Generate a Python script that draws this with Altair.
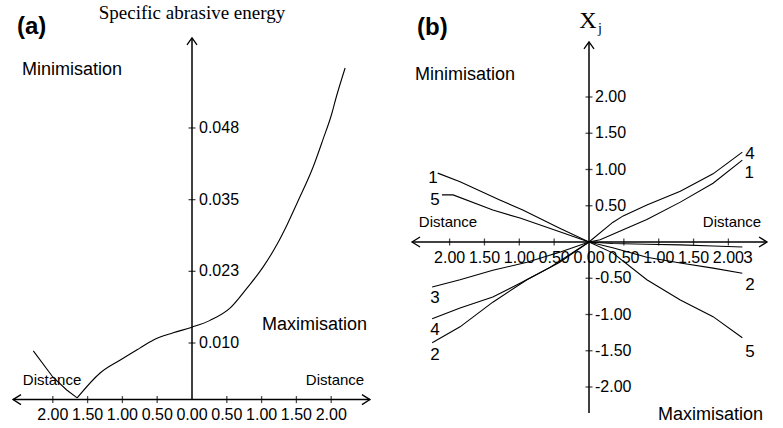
import altair as alt
import pandas as pd

# ---------------- data: panel (a) ----------------
a_dist = [-2.28, -2.00, -1.80, -1.65, -1.32, -1.03, -0.75, -0.56, -0.27, 0.00,
          0.26, 0.55, 0.79, 1.02, 1.22, 1.37, 1.52, 1.74, 1.88, 2.01, 2.06, 2.20]
a_energy = [0.0086, 0.0040, 0.0017, 0.0003, 0.0047, 0.0070, 0.0091, 0.0105, 0.0118, 0.0128,
            0.0140, 0.0162, 0.0197, 0.0234, 0.0274, 0.0310, 0.0350, 0.0411, 0.0459, 0.0506, 0.0529, 0.0586]
a_xticks = [-2.0, -1.5, -1.0, -0.5, 0.0, 0.5, 1.0, 1.5, 2.0]
a_yticks = [0.010, 0.0226667, 0.0353333, 0.048]

# ---------------- data: panel (b) ----------------
b_lines = {
    "1": ([-2.17, -1.85, -1.28, -0.95, -0.42, 0.0, 0.16, 0.49, 0.83, 1.31, 1.78, 2.20],
          [0.95, 0.83, 0.58, 0.44, 0.19, 0.0, 0.03, 0.17, 0.31, 0.55, 0.81, 1.13]),
    "2": ([-2.25, -1.85, -1.38, -0.89, -0.42, 0.0, 0.34, 0.83, 1.31, 1.78, 2.20],
          [-1.39, -1.17, -0.83, -0.52, -0.28, 0.0, -0.08, -0.21, -0.29, -0.36, -0.43]),
    "3": ([-2.25, -1.85, -1.38, -0.89, -0.42, 0.0, 0.34, 0.83, 1.31, 1.78, 2.20],
          [-0.62, -0.52, -0.39, -0.28, -0.14, 0.0, -0.02, -0.03, -0.04, -0.055, -0.07]),
    "4": ([-2.25, -1.85, -1.38, -0.99, -0.56, 0.0, 0.34, 0.49, 0.83, 1.31, 1.78, 2.20],
          [-1.06, -0.91, -0.76, -0.57, -0.35, 0.0, 0.27, 0.36, 0.51, 0.70, 0.94, 1.24]),
    "5": ([-2.11, -1.95, -1.38, -0.99, -0.42, 0.0, 0.34, 0.83, 1.31, 1.78, 2.20],
          [0.65, 0.65, 0.44, 0.33, 0.14, 0.0, -0.15, -0.52, -0.80, -1.03, -1.32]),
}
b_xticks = [-2.0, -1.5, -1.0, -0.5, 0.0, 0.5, 1.0, 1.5, 2.0]
b_yticks = [-2.0, -1.5, -1.0, -0.5, 0.5, 1.0, 1.5, 2.0]
b_label_text = ["1", "5", "3", "4", "2", "4", "1", "3", "2", "5"]
b_label_x = [-2.24, -2.21, -2.21, -2.21, -2.21, 2.31, 2.30, 2.28, 2.31, 2.31]
b_label_y = [0.88, 0.58, -0.77, -1.21, -1.56, 1.21, 0.95, -0.22, -0.59, -1.52]

# ---------------- layout ----------------
H = 428
WA, WB = 391, 392
SANS = "Liberation Sans"
SERIF = "Liberation Serif"

AX_DOM = [-192 / 69.6, (WA - 192) / 69.6]
AY_DOM = [(399.6 - H) / 5659.0, 399.6 / 5659.0]
BX_DOM = [-198 / 69.7, (WB - 198) / 69.7]
BY_DOM = [(242 - H) / 72.5, 242 / 72.5]

LEFT_ARROW = "M1.6,-1L0,0L1.6,1"
RIGHT_ARROW = "M-1.6,-1L0,0L-1.6,1"
UP_ARROW = "M-1,1.4L0,0L1,1.4"


def sc(dom):
    return alt.Scale(domain=dom, nice=False, zero=False)


def X(field, dom):
    return alt.X(field, type="quantitative", scale=sc(dom), axis=None)


def Y(field, dom):
    return alt.Y(field, type="quantitative", scale=sc(dom), axis=None)


def text_layer(df, xd, yd, size, font=SANS, weight="normal", align="left"):
    return alt.Chart(df).mark_text(
        fontSize=size, font=font, fontWeight=weight, align=align,
        baseline="middle", color="black"
    ).encode(x=X("x", xd), y=Y("y", yd), text="t:N")


def arrows(pts, xd, yd):
    layers = []
    for (x, y, shape) in pts:
        layers.append(
            alt.Chart(pd.DataFrame({"x": [x], "y": [y]})).mark_point(
                shape=shape, size=100, filled=False, stroke="black", strokeWidth=1.3, opacity=1
            ).encode(x=X("x", xd), y=Y("y", yd))
        )
    return layers


def axis_lines(xr, yr, xd, yd):
    df = pd.DataFrame({"x": [xr[0], 0.0], "x2": [xr[1], 0.0],
                       "y": [0.0, yr[0]], "y2": [0.0, yr[1]]})
    return alt.Chart(df).mark_rule(color="black", strokeWidth=1.5).encode(
        x=X("x", xd), x2="x2:Q", y=Y("y", yd), y2="y2:Q")


def tick_layers(xt, yt, xd, yd):
    dx = pd.DataFrame({"x": [v for v in xt if v != 0], "y": 0.0})
    dy = pd.DataFrame({"y": yt, "x": 0.0})
    tx = alt.Chart(dx).mark_tick(orient="vertical", size=7, thickness=1.3, color="black").encode(
        x=X("x", xd), y=Y("y", yd))
    ty = alt.Chart(dy).mark_tick(orient="horizontal", size=7, thickness=1.3, color="black").encode(
        x=X("x", xd), y=Y("y", yd))
    return [tx, ty]


def x_labels(ticks, xd, yd, dy):
    df = pd.DataFrame({"x": ticks, "y": 0.0})
    return alt.Chart(df).transform_calculate(
        t="format(abs(datum.x), '.2f')"
    ).mark_text(fontSize=16, font=SANS, align="center", baseline="middle", dy=dy, color="black").encode(
        x=X("x", xd), y=Y("y", yd), text="t:N")


def y_labels(ticks, xd, yd, dx, expr):
    df = pd.DataFrame({"x": 0.0, "y": ticks})
    return alt.Chart(df).transform_calculate(t=expr).mark_text(
        fontSize=16, font=SANS, align="left", baseline="middle", dx=dx, color="black").encode(
        x=X("x", xd), y=Y("y", yd), text="t:N")


# ---------------- panel (a) ----------------
dfa = pd.DataFrame({"x": a_dist, "y": a_energy})
dfa_left = dfa[dfa["x"] <= -1.65]
dfa_right = dfa[dfa["x"] >= -1.65]
curve_a1 = alt.Chart(dfa_left).mark_line(color="black", strokeWidth=1.1).encode(
    x=X("x", AX_DOM), y=Y("y", AY_DOM), order="x:Q")
curve_a2 = alt.Chart(dfa_right).mark_line(color="black", strokeWidth=1.1, interpolate="monotone").encode(
    x=X("x", AX_DOM), y=Y("y", AY_DOM), order="x:Q")

a_ann_sans = pd.DataFrame({
    "x": [-2.443, 1.006], "y": [0.0582, 0.0132], "t": ["Minimisation", "Maximisation"]})
a_ann_dist = pd.DataFrame({"x": [-2.011, 2.055], "y": [0.00346, 0.00346], "t": ["Distance", "Distance"]})
a_ann_tag = pd.DataFrame({"x": [-2.514], "y": [0.0658], "t": ["(a)"]})
a_ann_title = pd.DataFrame({"x": [0.0], "y": [0.0683], "t": ["Specific abrasive energy"]})

panel_a = alt.layer(
    curve_a1, curve_a2,
    axis_lines([-2.572, 2.557], [0.0, 0.0639], AX_DOM, AY_DOM),
    *tick_layers(a_xticks, a_yticks, AX_DOM, AY_DOM),
    x_labels(a_xticks, AX_DOM, AY_DOM, 15),
    y_labels(a_yticks, AX_DOM, AY_DOM, 7, "format(datum.y, '.3f')"),
    *arrows([(-2.572, 0.0, LEFT_ARROW), (2.557, 0.0, RIGHT_ARROW), (0.0, 0.0639, UP_ARROW)], AX_DOM, AY_DOM),
    text_layer(a_ann_sans, AX_DOM, AY_DOM, 18),
    text_layer(a_ann_dist, AX_DOM, AY_DOM, 15, align="center"),
    text_layer(a_ann_tag, AX_DOM, AY_DOM, 24, weight="bold"),
    text_layer(a_ann_title, AX_DOM, AY_DOM, 19, font=SERIF, align="center"),
).properties(width=WA, height=H)

# ---------------- panel (b) ----------------
rows = []
for s, (xs, ys) in b_lines.items():
    for x, y in zip(xs, ys):
        rows.append({"series": s, "x": x, "y": y})
dfb = pd.DataFrame(rows)
lines_b = alt.Chart(dfb).mark_line(color="black", strokeWidth=1.1).encode(
    x=X("x", BX_DOM), y=Y("y", BY_DOM), detail="series:N", order="x:Q")

b_nums = pd.DataFrame({"x": b_label_x, "y": b_label_y, "t": b_label_text})
b_ann_sans = pd.DataFrame({"x": [-2.496, 0.990], "y": [2.303, -2.386], "t": ["Minimisation", "Maximisation"]})
b_ann_dist = pd.DataFrame({"x": [-2.023, 2.052], "y": [0.276, 0.276], "t": ["Distance", "Distance"]})
b_ann_tag = pd.DataFrame({"x": [-2.468], "y": [2.952], "t": ["(b)"]})
b_ann_X = pd.DataFrame({"x": [-0.014], "y": [3.048], "t": ["X"]})
b_ann_j = pd.DataFrame({"x": [0.158], "y": [2.94], "t": ["j"]})

panel_b = alt.layer(
    lines_b,
    axis_lines([-2.539, 2.554], [-2.359, 2.759], BX_DOM, BY_DOM),
    *tick_layers(b_xticks, b_yticks, BX_DOM, BY_DOM),
    x_labels(b_xticks, BX_DOM, BY_DOM, 16),
    y_labels(b_yticks, BX_DOM, BY_DOM, 6,
             "(datum.y < 0 ? '-' : '') + format(abs(datum.y), '.2f')"),
    *arrows([(-2.539, 0.0, LEFT_ARROW), (2.554, 0.0, RIGHT_ARROW), (0.0, 2.759, UP_ARROW)], BX_DOM, BY_DOM),
    text_layer(b_nums, BX_DOM, BY_DOM, 17, align="center"),
    text_layer(b_ann_sans, BX_DOM, BY_DOM, 18),
    text_layer(b_ann_dist, BX_DOM, BY_DOM, 15, align="center"),
    text_layer(b_ann_tag, BX_DOM, BY_DOM, 24, weight="bold"),
    text_layer(b_ann_X, BX_DOM, BY_DOM, 24, font=SERIF, align="center"),
    text_layer(b_ann_j, BX_DOM, BY_DOM, 14, font=SERIF, align="center"),
).properties(width=WB, height=H)

chart = alt.hconcat(panel_a, panel_b, spacing=0, bounds="flush").properties(
    padding=0, background="white"
).configure_view(stroke=None)

chart.save("out.html", embed_options={"renderer": "svg", "actions": False})
